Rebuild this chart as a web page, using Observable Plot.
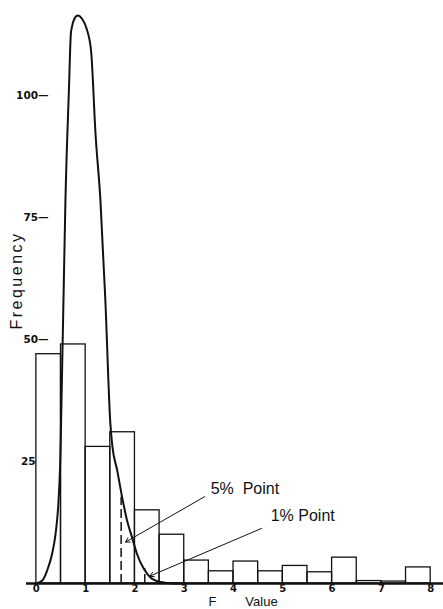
<!DOCTYPE html>
<html><head><meta charset="utf-8">
<script src="https://cdn.jsdelivr.net/npm/d3@7"></script>
<script src="https://cdn.jsdelivr.net/npm/@observablehq/plot@0.6"></script>
<style>
body{margin:0;background:#fff}
#chart{width:443px;height:609px;overflow:hidden}
</style>
</head><body><div id="chart"></div>
<script>
// Histogram of observed F values (bins of width 0.5)
const binStarts = [0, 0.5, 1, 1.5, 2, 2.5, 3, 3.5, 4, 4.5, 5, 5.5, 6, 6.5, 7, 7.5];
const binWidth = 0.5;
const frequencies = [47, 49, 28, 31, 15, 10, 4.7, 2.5, 4.5, 2.5, 3.6, 2.3, 5.3, 0.5, 0.4, 3.3];

// Theoretical F curve
const curveF = [0, 0.12, 0.22, 0.32, 0.39, 0.45, 0.49, 0.51, 0.53, 0.55, 0.59, 0.66, 0.70, 0.72, 0.77, 0.84, 0.93, 1.02, 1.11, 1.20, 1.30, 1.40, 1.50, 1.54, 1.64, 1.74, 1.84, 1.94, 2.04, 2.18, 2.31, 2.52, 2.78, 3.0];
const curveFreq = [0, 0.6, 2.7, 6.1, 10.2, 17, 27, 37.5, 47.7, 58, 78.5, 101, 112.7, 114, 115.7, 116.4, 115.7, 113.7, 109.2, 92.2, 78.5, 58, 33, 28.3, 23.2, 17.7, 12.9, 9.5, 6.1, 3.0, 1.3, 0.3, 0, 0];

// Significance points
const pointNames = ["5%\u00a0\u00a0Point", "1%\u00a0Point"];
const pointF = [1.72, 2.20];
const pointFreq = [17.7, 3.0];
const labelF = [3.536, 4.754];
const labelFreq = [19.3, 13.9];
const arrowFromF = [3.415, 4.57];
const arrowFromFreq = [17.8, 11.3];
const arrowToF = [1.81, 2.30];
const arrowToFreq = [8.5, 1.5];

const xTicks = [0, 1, 2, 3, 4, 5, 6, 7, 8];
const yTicksDash = [50, 75, 100];
const yTicksPlain = [25];

const bars = binStarts.map((b, i) => ({x1: b, x2: b + binWidth, y: frequencies[i]}));
const curve = curveF.map((f, i) => ({f, v: curveFreq[i]}));
const points = pointF.map((f, i) => ({f, v: pointFreq[i]}));
const labels = pointNames.map((t, i) => ({t, f: labelF[i], v: labelFreq[i]}));
const arrows = arrowFromF.map((f, i) => ({x1: f, y1: arrowFromFreq[i], x2: arrowToF[i], y2: arrowToFreq[i]}));

const ink = "#111";
const yTickFont = {fontFamily: "DejaVu Sans", fontSize: 10.5, fontWeight: "bold", fill: ink};
const xTickFont = {fontFamily: "DejaVu Sans", fontSize: 10, fontWeight: "bold", fill: ink};

const chart = Plot.plot({
  width: 443,
  height: 609,
  marginLeft: 26,
  marginRight: 0,
  marginTop: 0,
  marginBottom: 26,
  style: {fontFamily: "Liberation Sans", background: "#fff", color: ink},
  x: {domain: [-0.2, 8.26], axis: null},
  y: {domain: [0, 119.5], axis: null},
  marks: [
    Plot.rectY(bars, {x1: "x1", x2: "x2", y: "y", fill: "none", stroke: ink, strokeWidth: 1.3}),
    Plot.ruleX(points, {x: "f", y1: 0, y2: "v", stroke: ink, strokeWidth: 1.5, strokeDasharray: "9,4"}),
    Plot.line(curve, {x: "f", y: "v", curve: "monotone-x", stroke: ink, strokeWidth: 2}),
    Plot.ruleY([0], {stroke: ink, strokeWidth: 2.5}),
    Plot.arrow(arrows, {x1: "x1", y1: "y1", x2: "x2", y2: "y2", stroke: ink, strokeWidth: 1, headLength: 7, bend: false}),
    Plot.text(labels, {x: "f", y: "v", text: "t", textAnchor: "start", lineAnchor: "middle", fontSize: 16, fill: ink}),
    Plot.axisX(xTicks, {tickSize: 0, tickPadding: 1.5, label: null, ...xTickFont}),
    Plot.axisY(yTicksDash, {tickSize: 0, tickPadding: -22, label: null, tickFormat: d => d + "\u2014", ...yTickFont}),
    Plot.axisY(yTicksPlain, {tickSize: 0, tickPadding: -9, label: null, tickFormat: d => String(d), ...yTickFont}),
    Plot.text(["Frequency"], {frameAnchor: "left", rotate: -90, dx: -10, dy: -11.5, textAnchor: "middle", lineAnchor: "middle", fontSize: 16, fill: ink}),
    Plot.text(["F\u00a0\u00a0\u00a0\u00a0\u00a0\u00a0\u00a0\u00a0Value"], {frameAnchor: "bottom-left", dx: 182, dy: 13.7, textAnchor: "start", lineAnchor: "top", fontSize: 13, fill: ink})
  ]
});
d3.select(chart).selectAll("text").filter(function(){ return this.textContent === "Frequency"; }).style("letter-spacing", "2.5px");
document.getElementById("chart").appendChild(chart);
</script>
</body></html>
